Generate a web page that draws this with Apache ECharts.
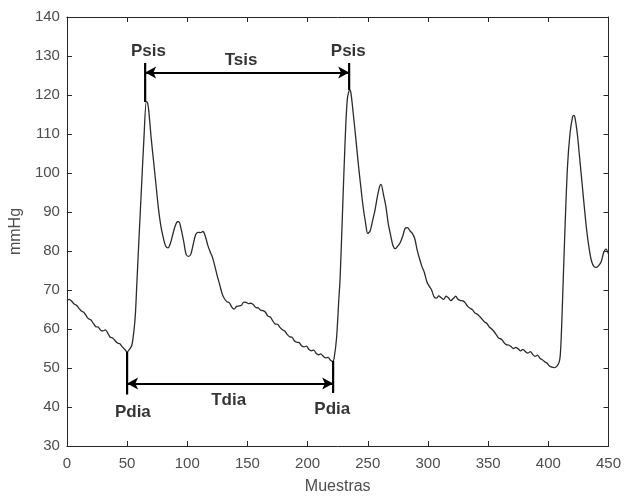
<!DOCTYPE html>
<html>
<head>
<meta charset="utf-8">
<script src="https://cdn.jsdelivr.net/npm/echarts@6/dist/echarts.min.js"></script>
<style>html,body{margin:0;padding:0;background:#fff}#c{width:624px;height:500px}</style>
</head>
<body>
<div id="c"></div>
<script>
// Samples (x) and pressure (mmHg)
const samples = [0,2,4,6,8,10,12,14,16,18,20,22,24,26,28,30,32,34,36,38,40,42,44,46,48,50,52,54,56,57,58,60,62,64,66,67,68,70,72,74,76,78,80,82,84,86,88,90,92,93,95,97,99,101,103,105,107,109,111,113,115,117,119,121,123,125,127,129,131,133,135,137,139,141,143,145,147,149,151,153,155,157,159,161,163,165,167,169,171,173,175,177,179,181,183,185,187,189,191,193,195,197,199,201,203,205,207,209,211,213,215,217,219,221,222,224,226,227,229,231,233,235,236,238,240,242,244,246,248,250,252,254,256,258,260,261,263,265,267,269,271,273,275,277,279,281,283,285,287,289,291,293,295,297,299,301,303,305,307,309,311,313,315,317,319,321,323,325,327,329,331,333,335,337,339,341,343,345,347,349,351,353,355,357,359,361,363,365,367,369,371,373,375,377,379,381,383,385,387,389,391,393,395,397,399,401,403,405,407,409,410,411,412,414,416,418,420,421,422,424,426,428,430,432,434,436,438,440,442,444,446,448,450];
const pressure = [67.3,67.6,67.1,66.4,66.1,65.3,64.6,64.3,63.4,62.6,62.3,61.4,60.6,60.5,59.7,59.5,59.8,58.9,57.9,57.7,57.0,56.4,56.2,55.4,54.8,54.1,54.8,55.9,60.5,64.4,71.0,84.0,96.5,109.0,118.3,118.0,116.0,109.0,103.0,97.0,91.0,86.5,83.5,81.3,80.8,82.0,84.3,86.5,87.5,87.5,85.5,82.5,79.2,78.6,79.2,81.8,84.2,84.8,84.7,85.0,83.8,81.5,79.8,78.3,76.0,73.5,71.3,69.0,67.7,67.0,66.7,65.6,65.1,65.8,65.9,66.1,66.9,66.8,66.5,66.6,66.2,65.5,65.4,64.8,64.7,64.3,63.3,63.1,62.1,61.3,61.2,60.4,59.8,59.5,58.6,58.0,57.9,57.0,56.6,56.5,55.7,55.4,55.6,54.8,54.4,54.6,53.8,53.4,53.6,53.0,52.6,52.7,52.0,51.7,52.5,57.5,68.0,73.0,90.0,107.0,119.0,121.3,120.5,115.0,109.0,102.7,97.0,91.6,87.5,84.5,85.2,87.8,90.5,94.0,96.7,97.1,94.5,91.5,87.0,84.0,81.3,80.6,81.3,82.2,83.8,85.8,86.0,85.2,84.5,83.2,80.3,78.0,76.0,74.5,72.2,71.0,70.0,68.3,67.9,68.5,68.0,67.6,68.4,68.0,67.3,67.8,68.4,67.6,67.3,67.2,66.7,65.8,65.3,64.9,64.1,63.8,63.2,62.5,61.8,61.4,60.5,60.0,59.3,58.4,57.6,57.4,56.6,56.0,55.9,55.5,55.0,55.3,54.9,54.4,54.8,54.2,53.8,54.2,53.5,53.0,53.3,52.5,52.1,51.6,51.2,50.5,50.2,50.1,50.4,51.5,53.5,60.0,69.0,87.0,102.0,110.0,114.2,114.8,114.4,110.3,104.0,97.5,91.0,85.0,80.5,77.3,76.0,75.8,76.3,77.3,79.6,80.5,79.2];

// Annotation marks (data coordinates)
const sysX = [65, 234.5];
const sysLow = [118.2, 121.3];
const sysHigh = [128.2, 128.2];
const tsisY = 125.8;
const diaX = [50, 221.2];
const diaLow = [43.2, 43.6];
const diaHigh = [54.1, 51.8];
const tdiaY = 46;
const labelText = ['Psis', 'Psis', 'Tsis', 'Pdia', 'Pdia', 'Tdia'];
const labelX = [67.7, 233.8, 144.7, 54.8, 220.5, 134.4];
const labelY = [131.1, 131.1, 128.8, 38.7, 39.3, 41.7];

const xTicks = [0, 50, 100, 150, 200, 250, 300, 350, 400, 450];
const yTicks = [30, 40, 50, 60, 70, 80, 90, 100, 110, 120, 130, 140];

const axisColor = '#262626';
const labelColor = '#4d4d4d';
const font = 'Arial, "Liberation Sans", Helvetica, sans-serif';

const vLines = [];
for (let i = 0; i < sysX.length; i++) {
  vLines.push([[sysX[i], sysLow[i]], [sysX[i], sysHigh[i]]]);
}
for (let i = 0; i < diaX.length; i++) {
  vLines.push([[diaX[i], diaLow[i]], [diaX[i], diaHigh[i]]]);
}

const vSeries = vLines.map(pts => ({
  type: 'line', data: pts, symbol: 'none', silent: true,
  lineStyle: {color: '#000', width: 2.2}, z: 5, animation: false
}));

const chart = echarts.init(document.getElementById('c'), null, {renderer: 'canvas'});
const baseAxis = {
  min: 0, max: 450, interval: 50, type: 'value',
  axisLine: {show: true, onZero: false, lineStyle: {color: axisColor, width: 1}},
  axisTick: {show: true, inside: true, length: 5, lineStyle: {color: axisColor}},
  splitLine: {show: false}
};
chart.setOption({
  animation: false,
  backgroundColor: '#fff',
  grid: {left: 66, right: 14, top: 17, bottom: 53, containLabel: false},
  xAxis: [
    Object.assign({}, baseAxis, {
      position: 'bottom',
      name: 'Muestras', nameLocation: 'middle', nameGap: 33,
      nameTextStyle: {fontFamily: font, fontSize: 16, color: labelColor},
      axisLabel: {fontFamily: font, fontSize: 15, color: labelColor, margin: 10,
        formatter: v => xTicks.includes(v) ? String(v) : ''}
    }),
    Object.assign({}, baseAxis, {position: 'top', axisLabel: {show: false}})
  ],
  yAxis: [
    Object.assign({}, baseAxis, {
      min: 30, max: 140, interval: 10, position: 'left',
      name: 'mmHg', nameLocation: 'middle', nameGap: 40,
      nameTextStyle: {fontFamily: font, fontSize: 16, color: labelColor},
      axisLabel: {fontFamily: font, fontSize: 15, color: labelColor, margin: 7,
        formatter: v => yTicks.includes(v) ? String(v) : ''}
    }),
    Object.assign({}, baseAxis, {min: 30, max: 140, interval: 10, position: 'right', axisLabel: {show: false}})
  ],
  series: [
    {
      type: 'line', name: 'presion',
      data: samples.map((s, i) => [s, pressure[i]]),
      symbol: 'none', smooth: 0.3,
      lineStyle: {color: '#2b2b2b', width: 1.3},
      z: 3,
      markLine: {
        silent: true, symbol: ['arrow', 'arrow'], symbolSize: [9, 11],
        label: {show: false},
        lineStyle: {color: '#000', width: 2, type: 'solid'},
        data: [
          [{coord: [sysX[0], tsisY]}, {coord: [sysX[1], tsisY]}],
          [{coord: [diaX[0], tdiaY]}, {coord: [diaX[1], tdiaY]}]
        ]
      }
    },
    ...vSeries,
    {
      type: 'scatter', silent: true, symbolSize: 1, z: 6,
      itemStyle: {color: 'rgba(0,0,0,0)'},
      data: labelText.map((t, i) => ({value: [labelX[i], labelY[i]], name: t})),
      label: {show: true, position: 'inside', formatter: p => p.name,
        fontFamily: font, fontSize: 17, fontWeight: 'bold', color: '#000'}
    }
  ]
});
</script>
</body>
</html>
